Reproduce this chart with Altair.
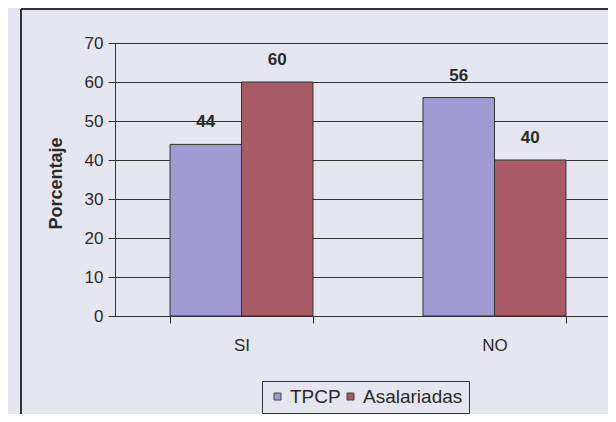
import altair as alt
import pandas as pd

# ---- data ----
categories = ["SI", "NO"]
series_names = ["TPCP", "Asalariadas"]
tpcp = [44, 56]
asalariadas = [60, 40]
y_ticks = [0, 10, 20, 30, 40, 50, 60, 70]
series_colors = ["#9f9ad2", "#a85a66"]

rows = []
for i, c in enumerate(categories):
    rows.append({"respuesta": c, "grupo": series_names[0], "valor": tpcp[i]})
    rows.append({"respuesta": c, "grupo": series_names[1], "valor": asalariadas[i]})
df = pd.DataFrame(rows)

BG = "#e5e6f0"
FONT = "Liberation Sans"
INK = "#2a2a2a"

x_enc = alt.X(
    "respuesta:N",
    sort=categories,
    title=None,
    scale=alt.Scale(range=[0, 506], paddingInner=0.435, paddingOuter=0.2175),
    axis=alt.Axis(
        labelAngle=0,
        tickBand="extent",
        tickSize=7,
        labelPadding=14,
        labelFontSize=17,
        labelColor=INK,
        domainColor="#333333",
        tickColor="#333333",
        grid=False,
    ),
)
xoff_enc = alt.XOffset(
    "grupo:N", sort=series_names, scale=alt.Scale(paddingInner=0, paddingOuter=0)
)
y_enc = alt.Y(
    "valor:Q",
    scale=alt.Scale(domain=[0, 70], nice=False),
    axis=alt.Axis(
        values=y_ticks,
        title="Porcentaje",
        titleFontSize=18,
        titleFontWeight="bold",
        titleColor=INK,
        titleX=-50,
        titleY=140,
        labelFontSize=17,
        labelColor=INK,
        labelPadding=5,
        tickSize=7,
        tickColor="#333333",
        domainColor="#333333",
        grid=True,
        gridColor="#333333",
        gridWidth=1,
    ),
)
color_enc = alt.Color(
    "grupo:N",
    sort=series_names,
    scale=alt.Scale(domain=series_names, range=series_colors),
    legend=alt.Legend(
        orient="none",
        legendX=147,
        legendY=338,
        direction="horizontal",
        title=None,
        symbolType="square",
        symbolSize=49,
        symbolStrokeColor="#444444",
        symbolStrokeWidth=1,
        labelFontSize=19,
        labelFont=FONT,
        labelColor=INK,
        labelOffset=3,
        columnPadding=0,
        gridAlign="none",
        padding=6,
        strokeColor="#333333",
        fillColor=BG,
    ),
)

bars = alt.Chart(df).mark_bar(stroke="#333333", strokeWidth=1).encode(
    x=x_enc, xOffset=xoff_enc, y=y_enc, color=color_enc
)
labels = alt.Chart(df).mark_text(
    fontWeight="bold", fontSize=17, dy=-17, baseline="alphabetic", font=FONT, color=INK
).encode(x=x_enc, xOffset=xoff_enc, y=y_enc, text="valor:Q")

frame_df = pd.DataFrame({"k": [0]})
border_left = alt.Chart(frame_df).mark_rule(color="#333333", strokeWidth=2).encode(
    x=alt.value(-94), y=alt.value(-34), y2=alt.value(390)
)
border_top = alt.Chart(frame_df).mark_rule(color="#333333", strokeWidth=2).encode(
    x=alt.value(-94), x2=alt.value(520), y=alt.value(-34)
)

chart = (
    alt.layer(border_left, border_top, bars, labels)
    .properties(
        width=493,
        height=273,
        padding={"left": 107, "top": 35, "right": 0, "bottom": 98},
        autosize=alt.AutoSizeParams(type="none"),
    )
    .configure(background=BG, font=FONT)
    .configure_view(stroke=None)
)

chart.save("out.html", embed_options={"renderer": "svg", "actions": False})
